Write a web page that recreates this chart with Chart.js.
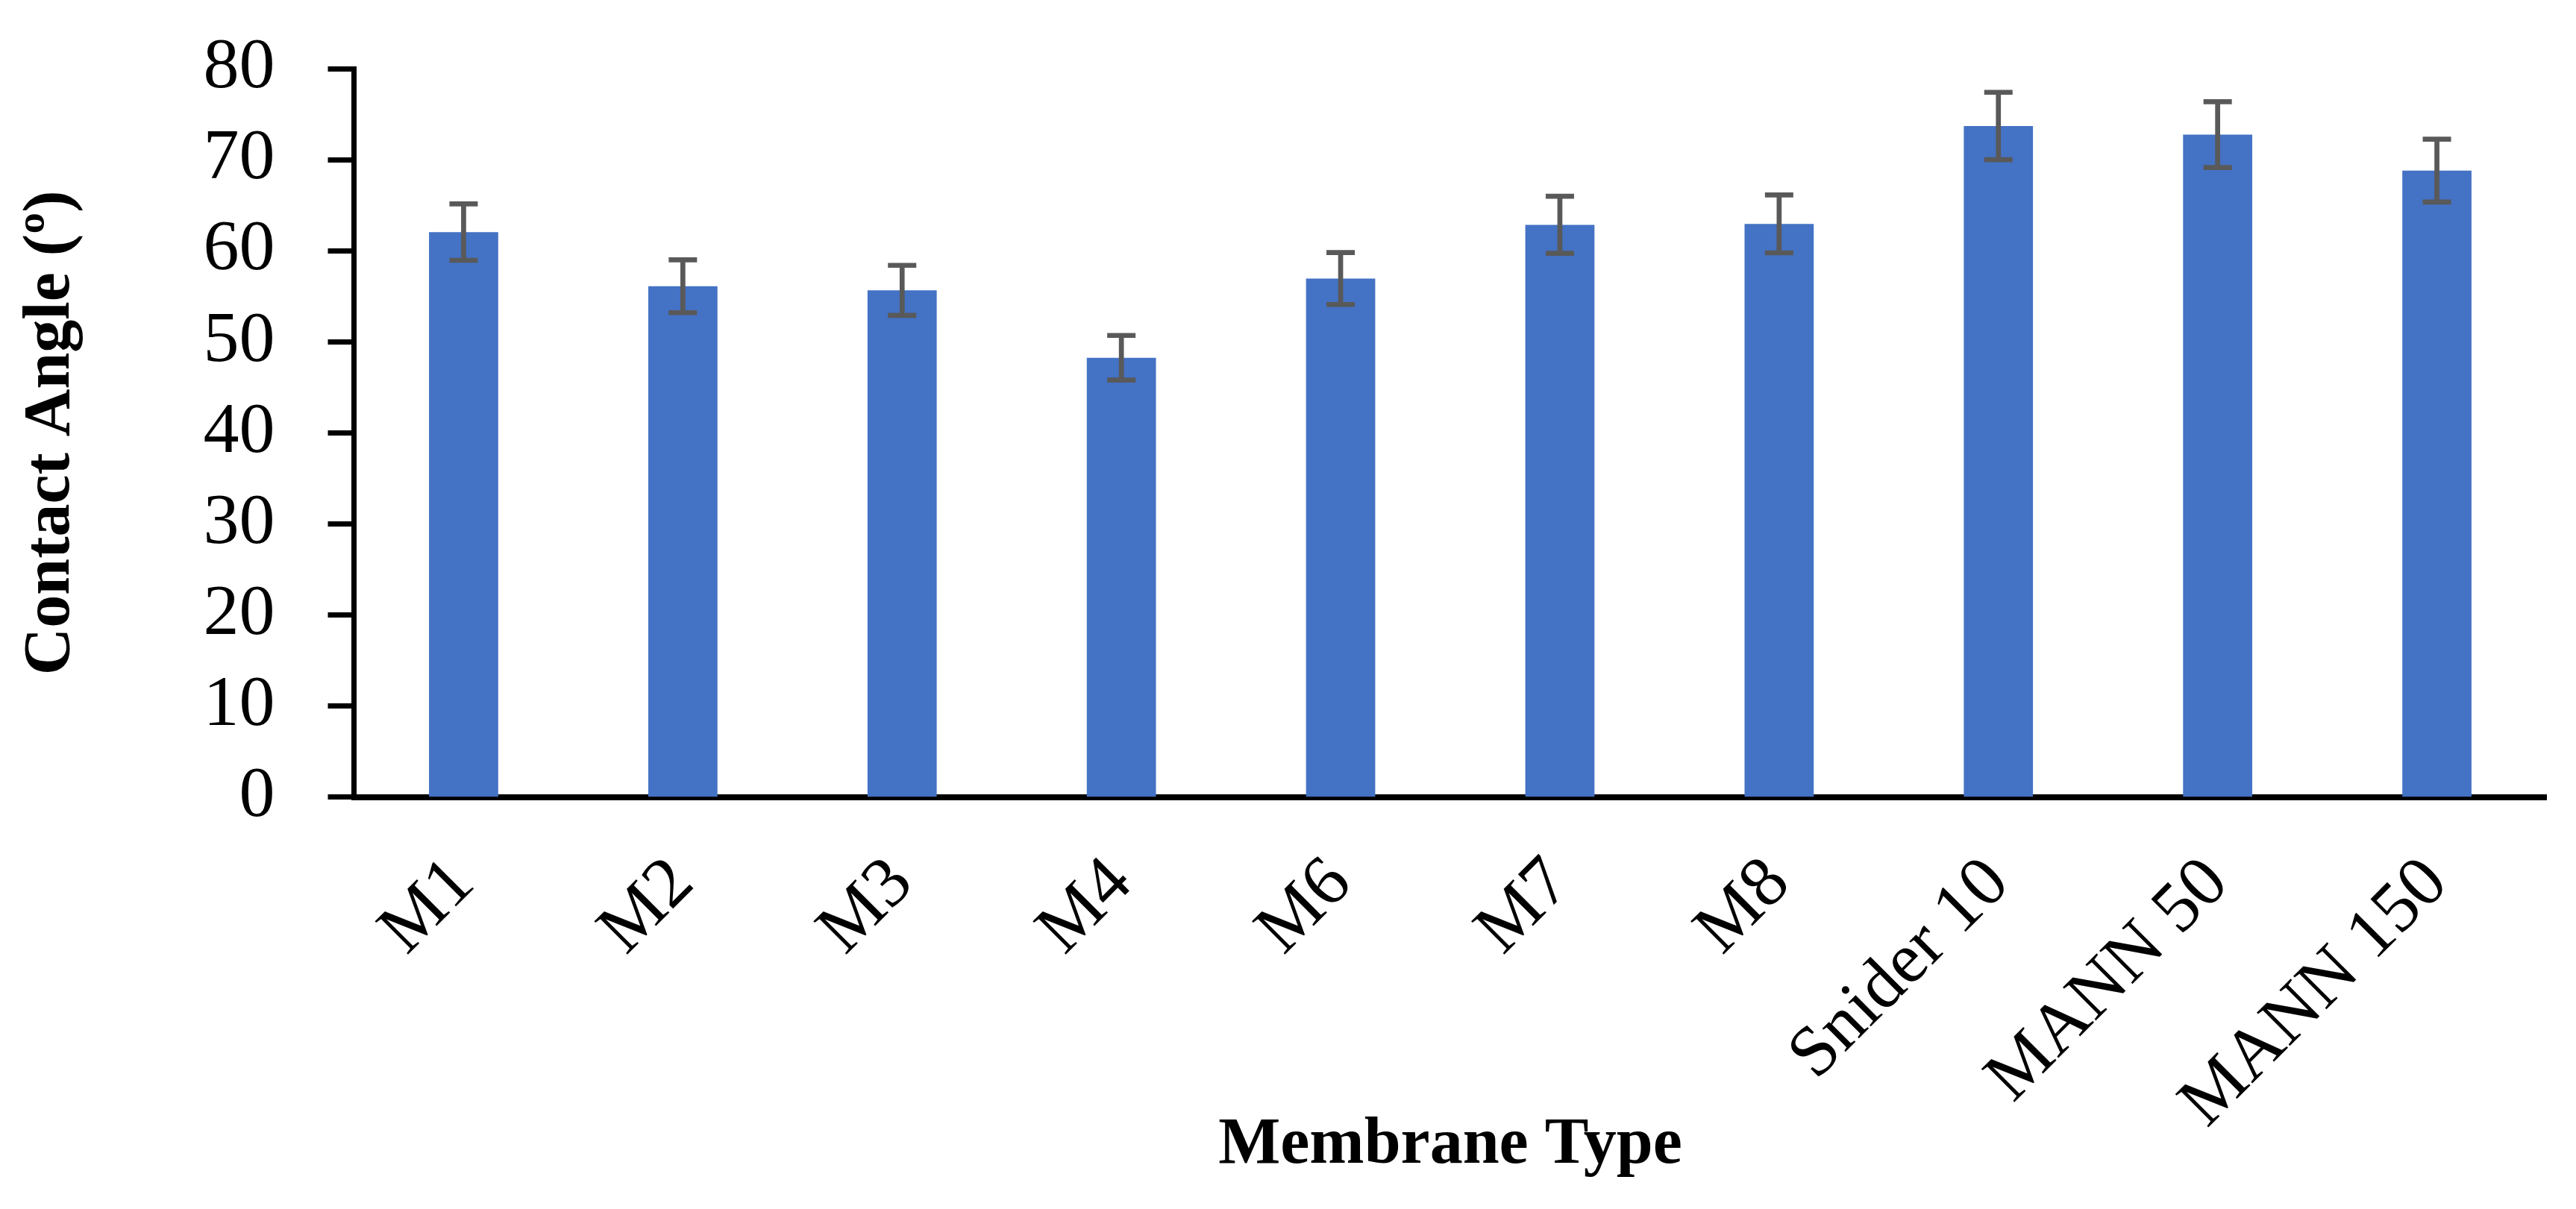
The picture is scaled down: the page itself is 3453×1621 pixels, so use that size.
<!DOCTYPE html>
<html>
<head>
<meta charset="utf-8">
<script src="https://cdn.jsdelivr.net/npm/chart.js@4.4.0/dist/chart.umd.min.js"></script>
<style>
html,body{margin:0;padding:0;background:#ffffff;overflow:hidden;}
canvas{display:block;}
</style>
</head>
<body>
<canvas id="chart" width="3453" height="1621"></canvas>
<script>
// ---- Data ----
const categories = ['M1', 'M2', 'M3', 'M4', 'M6', 'M7', 'M8', 'Snider 10', 'MANN 50', 'MANN 150'];
const contactAngle = [62.05, 56.1, 55.65, 48.25, 56.95, 62.85, 62.95, 73.7, 72.75, 68.8];
const errorValues = [3.1, 2.9, 2.75, 2.45, 2.85, 3.13, 3.18, 3.7, 3.62, 3.45];
const yTickValues = [0, 10, 20, 30, 40, 50, 60, 70, 80];
const xTitle = 'Membrane Type';
const yTitle = 'Contact Angle (º)';

const FONT = 'Liberation Serif';
Chart.defaults.font.family = FONT;
Chart.defaults.color = '#000000';

const errorBarPlugin = {
  id: 'errorBars',
  afterDatasetsDraw(chart) {
    const meta = chart.getDatasetMeta(0);
    const yScale = chart.scales.y;
    const ctx = chart.ctx;
    ctx.save();
    ctx.strokeStyle = '#595959';
    ctx.lineWidth = 6.7;
    ctx.lineCap = 'butt';
    meta.data.forEach((bar, i) => {
      const v = contactAngle[i];
      const e = errorValues[i];
      const yTop = yScale.getPixelForValue(v + e);
      const yBot = yScale.getPixelForValue(v - e);
      const x = bar.x;
      const hw = 19;
      ctx.beginPath();
      ctx.moveTo(x, yTop); ctx.lineTo(x, yBot);
      ctx.moveTo(x - hw, yTop); ctx.lineTo(x + hw, yTop);
      ctx.moveTo(x - hw, yBot); ctx.lineTo(x + hw, yBot);
      ctx.stroke();
    });
    ctx.restore();
  }
};

new Chart(document.getElementById('chart'), {
  type: 'bar',
  data: {
    labels: categories,
    datasets: [{
      data: contactAngle,
      backgroundColor: '#4472C4',
      borderWidth: 0,
      barPercentage: 0.3155,
      categoryPercentage: 1.0
    }]
  },
  options: {
    responsive: false,
    devicePixelRatio: 1,
    animation: false,
    layout: { padding: { top: 92, right: 39.5, bottom: 0, left: 0 } },
    plugins: {
      legend: { display: false },
      tooltip: { enabled: false },
      title: { display: false }
    },
    scales: {
      x: {
        grid: { display: false, drawTicks: false, drawOnChartArea: false },
        border: { display: true, color: '#000000', width: 8 },
        ticks: {
          font: { family: FONT, size: 96 },
          color: '#000000',
          maxRotation: 45,
          minRotation: 45,
          padding: 60,
          autoSkip: false
        },
        title: {
          display: true,
          text: xTitle,
          font: { family: FONT, size: 88, weight: 'bold' },
          color: '#000000',
          padding: { top: 0, bottom: 32 }
        },
        afterFit(scale) { scale.height = 1621 - 1068.8; }
      },
      y: {
        min: 0,
        max: 80,
        afterBuildTicks(scale) { scale.ticks = yTickValues.map(v => ({ value: v })); },
        grid: {
          drawOnChartArea: false,
          drawTicks: true,
          tickLength: 35,
          tickWidth: 7,
          tickColor: '#000000'
        },
        border: { display: true, color: '#000000', width: 7 },
        ticks: {
          font: { family: FONT, size: 96 },
          color: '#000000',
          padding: 71,
          autoSkip: false
        },
        title: {
          display: true,
          text: yTitle,
          font: { family: FONT, size: 88, weight: 'bold' },
          color: '#000000',
          padding: { top: 16, bottom: 0 }
        },
        afterFit(scale) {
          scale.width = 474.5;
          scale.paddingTop = 0;
          scale.paddingBottom = 0;
        }
      }
    }
  },
  plugins: [errorBarPlugin]
});
</script>
</body>
</html>
